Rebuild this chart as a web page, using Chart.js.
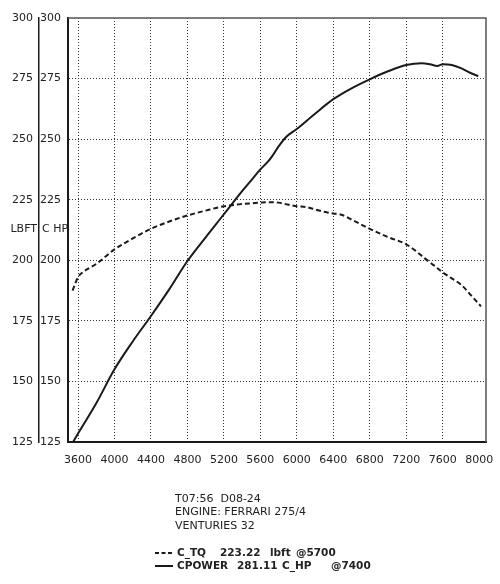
<!DOCTYPE html>
<html>
<head>
<meta charset="utf-8">
<title>Dyno</title>
<script src="https://cdn.jsdelivr.net/npm/chart.js@4.4.1/dist/chart.umd.min.js"></script>
<style>
    html, body { margin: 0; padding: 0; background: #fff; }
    #wrap { position: relative; width: 500px; height: 584px; }
</style>
</head>
<body>
<div id="wrap"><canvas id="dyno_chart"></canvas></div>
<script>
// torque run (lbft)
var tqRpm = [3540, 3600, 3650, 3800, 4000, 4200, 4400, 4600, 4800, 5000, 5200, 5400, 5600, 5700, 5800, 5900, 6000, 6100, 6200, 6300, 6400, 6480, 6600, 6800, 7000, 7200, 7300, 7400, 7500, 7600, 7700, 7800, 7900, 8020];
var tqValues = [187.5, 193, 195, 198.5, 204.5, 209, 213, 216, 218.5, 220.5, 222.3, 223.2, 223.8, 224.0, 223.8, 223.0, 222.3, 222.0, 221, 220, 219.3, 218.9, 216.8, 213, 209.6, 206.6, 204, 200.9, 198, 195, 192.5, 190, 186, 181];

// power run (C_HP)
var hpRpm = [3545, 3600, 3800, 4000, 4200, 4400, 4600, 4800, 5000, 5200, 5300, 5400, 5500, 5600, 5690, 5730, 5800, 5880, 6000, 6200, 6400, 6600, 6800, 7000, 7200, 7370, 7460, 7540, 7600, 7700, 7800, 7900, 7990];
var hpValues = [125, 128.5, 141, 155, 166.5, 177, 188, 199.7, 209.5, 219, 223.8, 228.5, 233, 237.5, 241, 243, 247, 250.8, 254.2, 260.5, 266.5, 271, 274.7, 278, 280.6, 281.3, 280.9, 280.2, 280.9, 280.6, 279.3, 277.4, 276];

var rpmTicks = [3600, 4000, 4400, 4800, 5200, 5600, 6000, 6400, 6800, 7200, 7600, 8000];
var yTicks = [125, 150, 175, 200, 225, 250, 275, 300];

var infoLines = ['T07:56  D08-24', 'ENGINE: FERRARI 275/4', 'VENTURIES 32'];
var legendTq = ['C_TQ', '223.22', 'lbft', '@5700'];
var legendHp = ['CPOWER', '281.11', 'C_HP', '@7400'];
var unitLabel = ['LBFT', 'C HP'];

(function () {
    'use strict';

    var ink = '#1a1a1a';
    var font = '"DejaVu Sans", Verdana, sans-serif';

    function toPoints(xs, ys) {
        return xs.map(function (x, i) { return {x: x, y: ys[i]}; });
    }

    function setTicks(list) {
        return function (axis) {
            axis.ticks = list.map(function (v) { return {value: v}; });
        };
    }

    function plain(v) { return String(v); }

    //frame on top/right plus the texts around the plot
    var extras = {
        id: 'extras',
        beforeDatasetsDraw: function (chart) {
            var ctx = chart.ctx, a = chart.chartArea;
            ctx.save();
            ctx.strokeStyle = '#555';
            ctx.lineWidth = 1.5;
            ctx.beginPath();
            ctx.moveTo(a.left, a.top);
            ctx.lineTo(a.right, a.top);
            ctx.lineTo(a.right, a.bottom);
            ctx.stroke();
            ctx.restore();
        },
        afterDraw: function (chart) {
            var ctx = chart.ctx;
            ctx.save();
            ctx.fillStyle = '#222';
            ctx.textBaseline = 'middle';
            ctx.font = '11px ' + font;
            ctx.textAlign = 'right';
            ctx.fillText(unitLabel[0], 37, 229);
            ctx.textAlign = 'left';
            ctx.fillText(unitLabel[1], 42, 229);

            infoLines.forEach(function (t, i) {
                ctx.fillText(t, 175, 499 + i * 13.5);
            });

            var cols1 = [177, 220, 270, 296];
            var cols2 = [177, 237, 282, 331];
            ctx.font = 'bold 10.5px ' + font;
            legendTq.forEach(function (t, i) { ctx.fillText(t, cols1[i], 553); });
            legendHp.forEach(function (t, i) { ctx.fillText(t, cols2[i], 566); });

            ctx.strokeStyle = ink;
            ctx.lineWidth = 2;
            ctx.setLineDash([4, 2.5]);
            ctx.beginPath();
            ctx.moveTo(155, 553);
            ctx.lineTo(172, 553);
            ctx.stroke();
            ctx.setLineDash([]);
            ctx.beginPath();
            ctx.moveTo(155, 566);
            ctx.lineTo(173, 566);
            ctx.stroke();
            ctx.restore();
        }
    };

    var tickFont = {family: font, size: 11};

    var config = {
        type: 'line',
        data: {
            datasets: [{
                label: 'C_TQ',
                data: toPoints(tqRpm, tqValues),
                borderColor: ink,
                borderWidth: 2,
                borderDash: [5, 3],
                pointRadius: 0,
                cubicInterpolationMode: 'monotone',
                fill: false
            }, {
                label: 'CPOWER',
                data: toPoints(hpRpm, hpValues),
                borderColor: ink,
                borderWidth: 2,
                pointRadius: 0,
                cubicInterpolationMode: 'monotone',
                fill: false
            }]
        },
        options: {
            responsive: true,
            maintainAspectRatio: false,
            animation: false,
            layout: {
                padding: {left: 12, top: 18, right: 14, bottom: 116}
            },
            plugins: {
                legend: {display: false},
                tooltip: {enabled: false}
            },
            scales: {
                x: {
                    type: 'linear',
                    min: 3490,
                    max: 8075,
                    afterBuildTicks: setTicks(rpmTicks),
                    afterFit: function (axis) {
                        axis.height = 26;
                        axis.paddingLeft = 0;
                        axis.paddingRight = 0;
                    },
                    grid: {
                        color: function (c) {
                            return c.tick && c.tick.value === 8000 ? 'rgba(0,0,0,0)' : '#333';
                        },
                        lineWidth: 1,
                        drawTicks: false
                    },
                    border: {color: ink, width: 2, dash: [1, 2]},
                    ticks: {
                        font: tickFont,
                        color: '#222',
                        padding: 12,
                        maxRotation: 0,
                        autoSkip: false,
                        callback: plain
                    }
                },
                y: {
                    position: 'left',
                    weight: 0,
                    min: 125,
                    max: 300,
                    afterBuildTicks: setTicks(yTicks),
                    afterFit: function (axis) { axis.width = 29; },
                    grid: {
                        color: function (c) {
                            var v = c.tick && c.tick.value;
                            return v === 125 || v === 300 ? 'rgba(0,0,0,0)' : '#333';
                        },
                        lineWidth: 1,
                        drawTicks: false
                    },
                    border: {color: ink, width: 2, dash: [1, 2]},
                    ticks: {
                        font: tickFont,
                        color: '#222',
                        padding: 7,
                        crossAlign: 'near',
                        callback: plain
                    }
                },
                yOuter: {
                    position: 'left',
                    weight: 1,
                    min: 125,
                    max: 300,
                    afterBuildTicks: setTicks(yTicks),
                    afterFit: function (axis) { axis.width = 27; },
                    grid: {drawOnChartArea: false, drawTicks: false},
                    border: {color: ink, width: 1.5},
                    ticks: {
                        font: tickFont,
                        color: '#222',
                        padding: 6,
                        callback: plain
                    }
                }
            }
        },
        plugins: [extras]
    };

    var chart = new Chart(document.getElementById('dyno_chart').getContext('2d'), config);
})();
</script>
</body>
</html>
